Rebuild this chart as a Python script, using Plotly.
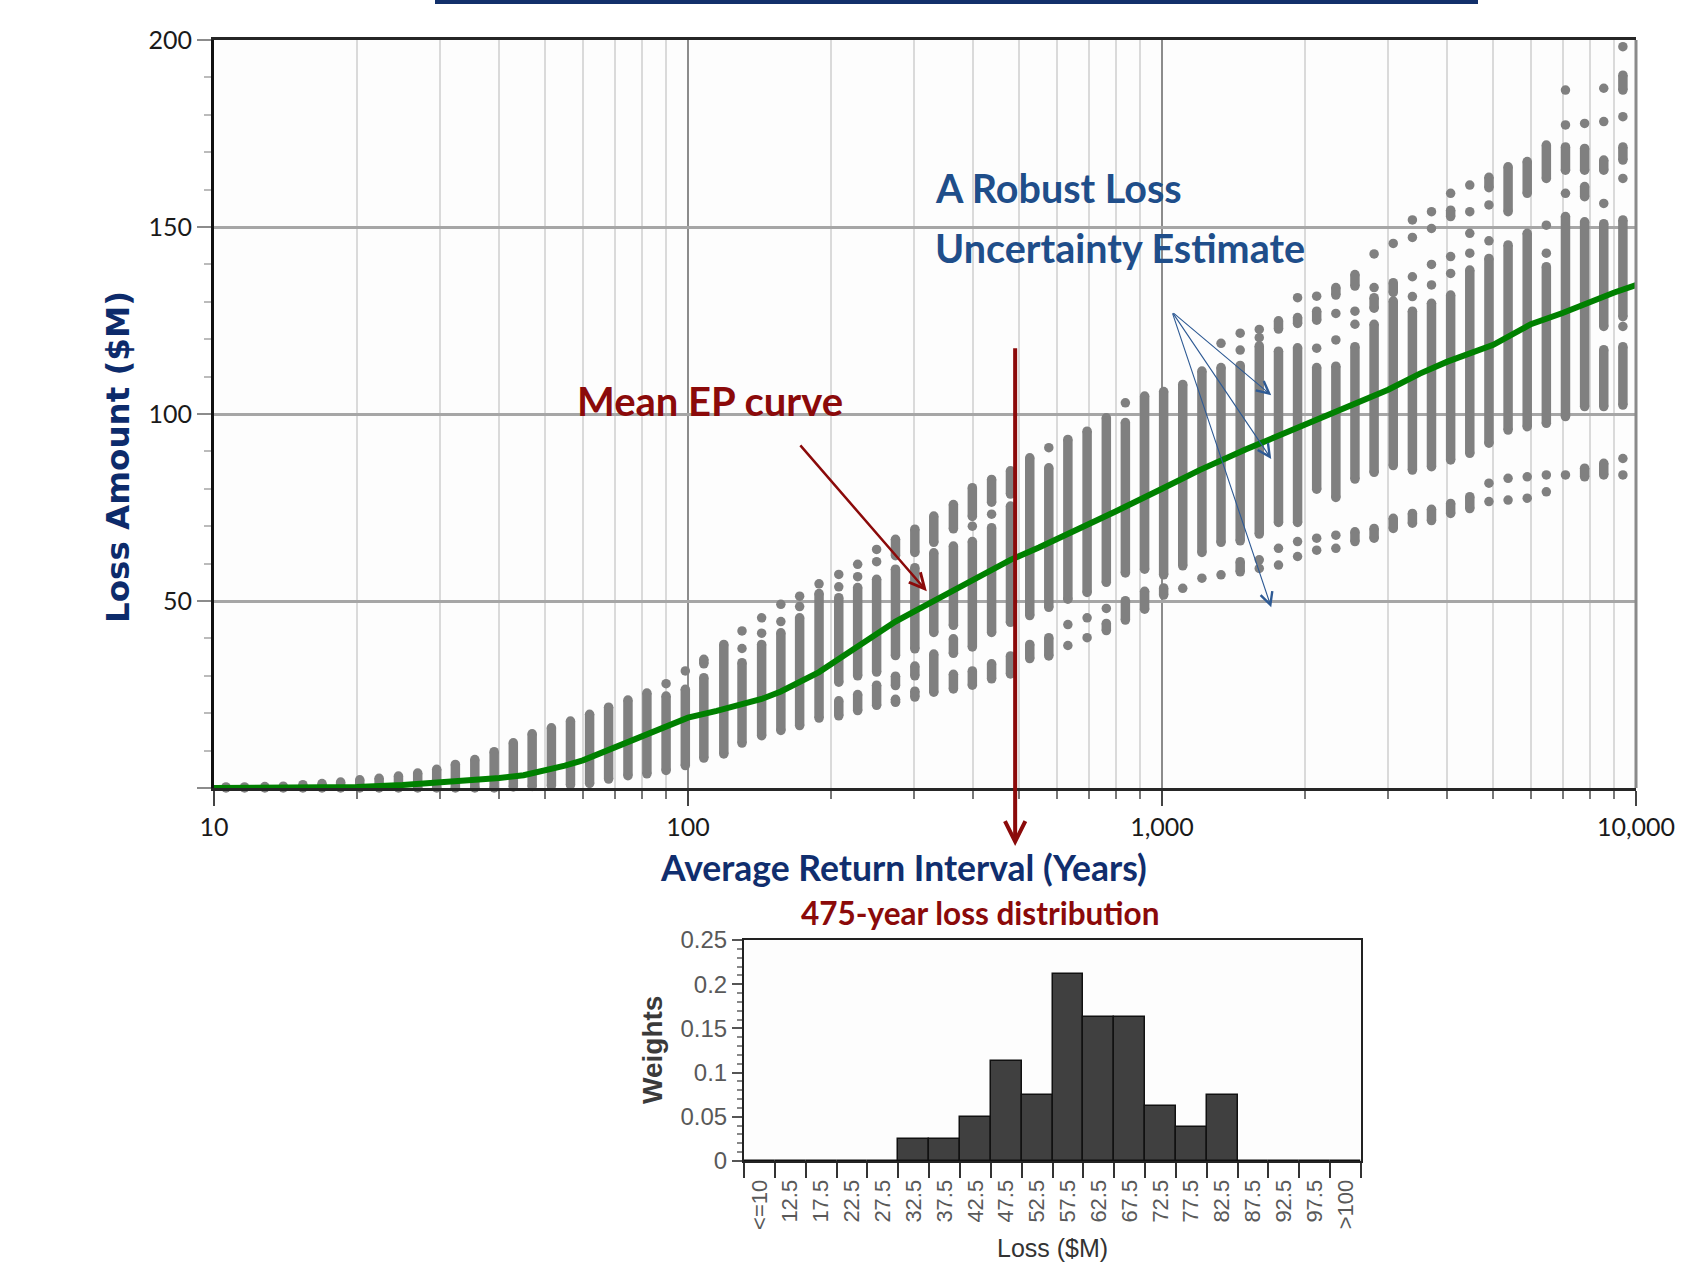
import math
import plotly.graph_objects as go

# ---------------- data ----------------
# return periods (years) of the simulated loss columns
return_periods = [10.6, 11.6, 12.8, 14.0, 15.4, 16.9, 18.5, 20.3, 22.3, 24.5, 26.9, 29.5,
                  32.3, 35.5, 39.0, 42.8, 46.9, 51.5, 56.5, 62.0, 68.0, 74.7, 81.9, 89.9,
                  98.7, 108, 119, 130, 143, 157, 172, 189, 208, 228, 250, 274, 301, 330,
                  363, 398, 437, 479, 526, 577, 633, 695, 763, 837, 919, 1008, 1106, 1214,
                  1332, 1462, 1604, 1761, 1932, 2120, 2327, 2553, 2802, 3075, 3375, 3703,
                  4064, 4460, 4895, 5372, 5895, 6469, 7099, 7791, 8550, 9383]

# loss values ($M) per column: [low, high] runs of densely packed points, [v, v] = single point
loss_columns = [
    [[0, 0.3]], [[0, 0.3]], [[0, 0.4]], [[0, 0.5]], [[0, 0.9]], [[0, 1.2]], [[0, 1.6]],
    [[0, 2.2]], [[0, 2.6]], [[0, 3.2]], [[0, 4.0]], [[0, 5.0]], [[0, 6.3]], [[0, 7.6]],
    [[0, 9.7]], [[0.3, 12.1]], [[0.4, 14.5]], [[0.6, 16.1]], [[0.8, 17.9]], [[1.2, 19.7]],
    [[2.4, 21.6]], [[3.3, 23.5]], [[3.8, 25.4]],
    [[4.7, 24.6], [27.9, 27.9]],
    [[6.0, 26.4], [31.3, 31.3]],
    [[8.0, 29.5], [33.2, 34.4]],
    [[9.1, 38.4]],
    [[12.0, 33.5], [37.3, 37.3], [42.0, 42.0]],
    [[14.0, 38.4], [41.4, 41.4], [45.5, 45.5]],
    [[15.4, 41.5], [44.5, 44.5], [49.1, 49.1]],
    [[16.7, 45.5], [48.5, 48.5], [51.3, 51.3]],
    [[18.7, 52.0], [54.6, 54.6]],
    [[19.3, 23.3], [28.3, 50.9], [53.8, 53.8], [57.1, 57.1]],
    [[20.7, 25.0], [30.0, 53.6], [56.5, 56.5], [59.8, 59.8]],
    [[22.1, 27.5], [31.0, 55.8], [60.5, 60.5], [63.8, 63.8]],
    [[22.9, 23.7], [27.4, 29.9], [35.4, 58.5], [62.1, 66.5]],
    [[24.3, 25.9], [30.0, 32.6], [37.2, 58.9], [63.0, 69.2]],
    [[25.6, 35.8], [41.6, 62.9], [65.7, 72.7]],
    [[26.5, 30.4], [36.0, 39.9], [43.5, 64.7], [69.3, 75.8]],
    [[27.5, 31.3], [37.7, 65.9], [70.0, 70.0], [72.6, 80.3]],
    [[29.2, 33.2], [41.6, 69.6], [73.2, 73.2], [76.4, 82.5]],
    [[30.5, 35.3], [44.3, 75.4], [78.6, 84.8]],
    [[34.6, 38.4], [46.1, 88.3]],
    [[35.3, 40.2], [48.3, 85.6], [91.0, 91.0]],
    [[38.1, 38.1], [43.7, 43.7], [50.5, 93.2]],
    [[40.2, 40.2], [45.5, 45.5], [52.3, 95.4]],
    [[42.1, 44.0], [48.0, 48.0], [55.0, 99.0]],
    [[44.9, 50.1], [57.5, 97.7], [103.0, 103.0]],
    [[47.8, 52.6], [58.5, 104.8]],
    [[51.6, 53.5], [57.0, 106.0]],
    [[53.4, 53.4], [59.4, 107.9]],
    [[56.1, 56.1], [63.0, 111.5]],
    [[57.0, 57.0], [65.7, 112.4], [118.9, 118.9]],
    [[57.8, 60.5], [66.1, 113.0], [117.1, 117.1], [121.6, 121.6]],
    [[58.7, 58.7], [61.0, 61.0], [67.9, 118.2], [120.4, 120.4], [122.6, 122.6]],
    [[59.6, 59.6], [64.1, 64.1], [71.0, 116.8], [122.7, 124.9]],
    [[61.9, 61.9], [65.9, 65.9], [71.0, 117.7], [124.2, 125.8], [131.1, 131.1]],
    [[63.6, 63.6], [66.8, 66.8], [79.9, 112.4], [117.6, 117.6], [125.1, 127.5], [131.5, 131.5]],
    [[64.1, 64.1], [67.6, 67.6], [77.7, 112.8], [119.8, 119.8], [126.9, 126.9], [131.8, 133.8]],
    [[65.9, 68.5], [82.6, 118.0], [124.0, 124.0], [127.5, 127.5], [134.2, 137.3]],
    [[66.8, 69.4], [84.4, 124.0], [128.3, 131.1], [133.8, 133.8], [142.8, 142.8]],
    [[69.4, 72.1], [86.2, 130.2], [132.5, 135.1], [145.6, 145.6]],
    [[70.8, 73.4], [85.0, 127.5], [131.4, 131.4], [136.7, 136.7], [147.2, 147.2], [151.9, 151.9]],
    [[71.5, 74.5], [85.9, 129.6], [134.5, 134.5], [140.0, 140.0], [149.6, 149.6], [154.1, 154.1]],
    [[73.4, 76.1], [87.7, 131.8], [137.6, 137.6], [142.1, 142.1], [152.8, 154.5], [159.0, 159.0]],
    [[74.7, 77.9], [89.5, 138.5], [143.0, 143.0], [148.3, 148.3], [154.1, 154.1], [161.2, 161.2]],
    [[76.6, 76.6], [81.5, 81.5], [92.2, 141.6], [146.3, 146.3], [155.9, 155.9], [160.5, 163.3]],
    [[77.0, 77.0], [82.8, 82.8], [95.7, 145.2], [154.1, 166.1]],
    [[77.5, 77.5], [83.2, 83.2], [96.6, 148.3], [159.0, 167.5]],
    [[79.2, 79.2], [83.7, 83.7], [97.5, 139.4], [143.0, 143.0], [150.5, 150.5], [163.0, 171.9]],
    [[83.7, 83.7], [99.3, 152.8], [159.0, 159.0], [165.2, 171.4], [177.3, 177.3], [186.6, 186.6]],
    [[83.2, 85.5], [102.0, 151.4], [158.1, 160.8], [165.2, 171.0], [177.7, 177.7]],
    [[83.7, 86.8], [102.0, 117.2], [123.4, 150.9], [156.3, 156.3], [165.2, 167.9], [178.2, 178.2],
     [187.1, 187.1]],
    [[83.7, 83.7], [88.1, 88.1], [102.4, 118.0], [123.4, 123.4], [126.0, 151.9], [163.0, 163.0],
     [167.9, 171.4], [179.5, 179.5], [186.6, 190.6], [198.2, 198.2]],
]

# mean EP curve
ep_rp = [10, 15, 20, 25, 30, 35, 40, 45, 50, 55, 60, 70, 80, 90, 100, 115, 130, 143, 157, 172,
         189, 208, 228, 250, 274, 301, 330, 363, 398, 437, 479, 550, 650, 800, 1000, 1200, 1500,
         2000, 2500, 3000, 3500, 4000, 5000, 6000, 7000, 8000, 9000, 10000]
ep_loss = [0.0, 0.1, 0.3, 0.8, 1.4, 2.0, 2.7, 3.4, 4.6, 6.0, 7.4, 10.8, 14.0, 16.6, 18.8, 20.6,
           22.3, 23.8, 25.8, 28.2, 31.0, 34.5, 37.8, 41.5, 44.5, 47.3, 50.0, 53.0, 55.8, 58.5,
           61.0, 64.3, 68.5, 74.0, 80.0, 85.0, 90.5, 97.0, 102.0, 106.5, 110.8, 114.0, 118.5,
           124.0, 127.0, 130.0, 132.5, 134.5]

# 475-year loss distribution
hist_bins = ["<=10", "12.5", "17.5", "22.5", "27.5", "32.5", "37.5", "42.5", "47.5", "52.5",
             "57.5", "62.5", "67.5", "72.5", "77.5", "82.5", "87.5", "92.5", "97.5", ">100"]
hist_weights = [0, 0, 0, 0, 0, 0.025, 0.025, 0.05, 0.113, 0.075, 0.212, 0.163, 0.163, 0.062,
                0.038, 0.075, 0, 0, 0, 0]

x_tickvals = [10, 100, 1000, 10000]
x_ticktext = ["10", "100", "1,000", "10,000"]
y_tickvals = [0, 50, 100, 150, 200]
y_ticktext = ["", "50", "100", "150", "200"]
h_tickvals = [0, 0.05, 0.1, 0.15, 0.2, 0.25]
h_ticktext = ["0", "0.05", "0.1", "0.15", "0.2", "0.25"]

# ---------------- figure ----------------
W, H = 1686, 1267
NARROW = "Lato, Liberation Sans Narrow, sans-serif"
ARIAL = "Liberation Sans, Arial, sans-serif"
GRAY = "#808080"
DOT = 9.5


def px(x):
    return x / W


def py(y):
    return 1 - y / H


seg_x, seg_y, dot_x, dot_y = [], [], [], []
for rp, runs in zip(return_periods, loss_columns):
    for lo, hi in runs:
        if hi > lo:
            seg_x += [rp, rp, None]
            seg_y += [lo, hi, None]
            dot_x += [rp, rp]
            dot_y += [lo, hi]
        else:
            dot_x.append(rp)
            dot_y.append(lo)

fig = go.Figure()
fig.add_trace(go.Scatter(x=seg_x, y=seg_y, mode="lines", line=dict(color=GRAY, width=DOT),
                         cliponaxis=False, hoverinfo="skip", xaxis="x", yaxis="y"))
fig.add_trace(go.Scatter(x=dot_x, y=dot_y, mode="markers",
                         marker=dict(color=GRAY, size=DOT, line=dict(width=0)),
                         cliponaxis=False, xaxis="x", yaxis="y"))
fig.add_trace(go.Scatter(x=ep_rp, y=ep_loss, mode="lines", line=dict(color="#008000", width=6),
                         cliponaxis=False, xaxis="x", yaxis="y"))
fig.add_trace(go.Bar(x=hist_bins, y=hist_weights, xaxis="x2", yaxis="y2",
                     marker=dict(color="#404040", line=dict(color="#111111", width=1.5))))

minor_x = [m * 10 ** d for d in (1, 2, 3) for m in range(2, 10)]

fig.update_layout(
    template="none",
    width=W, height=H, margin=dict(l=0, r=0, t=0, b=0, pad=0, autoexpand=False),
    paper_bgcolor="white", plot_bgcolor="#fdfdfd", showlegend=False, bargap=0,
    xaxis=dict(type="log", range=[1, 4], domain=[px(214), px(1636)], anchor="y",
               automargin=False,
               tickvals=x_tickvals, ticktext=x_ticktext,
               tickfont=dict(family=NARROW, size=25, color="#1a1a1a"),
               showgrid=True, gridcolor="#8c8c8c", gridwidth=2,
               ticks="outside", ticklen=15, tickwidth=2, tickcolor="#444",
               showline=True, linecolor="#262626", linewidth=3, mirror=True, zeroline=False,
               minor=dict(tickvals=minor_x, showgrid=True, gridcolor="#dadada", gridwidth=2,
                          ticks="outside", ticklen=8, tickwidth=1.5, tickcolor="#777")),
    yaxis=dict(range=[0, 200], domain=[py(788), py(40)], anchor="x", automargin=False,
               tickvals=y_tickvals, ticktext=y_ticktext,
               tickfont=dict(family=NARROW, size=25, color="#1a1a1a"),
               showgrid=True, gridcolor="#a6a6a6", gridwidth=2.5,
               ticks="outside", ticklen=14, tickwidth=2, tickcolor="#8c8c8c",
               showline=True, linecolor="#111111", linewidth=3, zeroline=False,
               minor=dict(dtick=10, ticks="outside", ticklen=7, tickwidth=1.5,
                          tickcolor="#bbbbbb", showgrid=False)),
    xaxis2=dict(type="category", domain=[px(744), px(1361)], anchor="y2", automargin=False,
                tickson="boundaries", ticks="outside", ticklen=15, tickwidth=1.5,
                tickcolor="#333", tickangle=-90, ticklabelstandoff=8,
                tickfont=dict(family=ARIAL, size=22, color="#595959"),
                showline=True, linecolor="#222", linewidth=2, mirror=True, showgrid=False),
    yaxis2=dict(range=[0, 0.25], domain=[py(1161), py(940)], anchor="x2", automargin=False,
                tickvals=h_tickvals, ticktext=h_ticktext,
                tickfont=dict(family=ARIAL, size=24, color="#595959"),
                ticks="outside", ticklen=10, tickwidth=1.5, tickcolor="#555",
                showline=True, linecolor="#222", linewidth=2, mirror=True,
                showgrid=False, zeroline=False,
                minor=dict(dtick=0.01, ticks="outside", ticklen=5, tickcolor="#888")),
)

shapes = [
    dict(type="rect", xref="paper", yref="paper", x0=px(435), x1=px(1478), y0=py(4), y1=1,
         fillcolor="#12306b", line=dict(width=0)),
    dict(type="line", xref="paper", yref="paper", x0=px(1636), x1=px(1636), y0=py(788),
         y1=py(40), line=dict(color="#8a8a8a", width=3)),
]
fig.update_layout(shapes=shapes)

ann = []
# text labels
ann.append(dict(xref="paper", yref="paper", x=px(575), y=py(401), xanchor="left", yanchor="middle",
                text="<b>Mean EP curve</b>", showarrow=False,
                font=dict(family=NARROW, size=40, color="#8b0a0a")))
ann.append(dict(xref="paper", yref="paper", x=px(933), y=py(187), xanchor="left", yanchor="middle",
                text="<b>A Robust Loss</b>", showarrow=False,
                font=dict(family=NARROW, size=39.5, color="#1f4e8a")))
ann.append(dict(xref="paper", yref="paper", x=px(933), y=py(247), xanchor="left", yanchor="middle",
                text="<b>Uncertainty Estimate</b>", showarrow=False,
                font=dict(family=NARROW, size=39.5, color="#1f4e8a")))
ann.append(dict(xref="paper", yref="paper", x=px(903), y=py(867), xanchor="center", yanchor="middle",
                text="<b>Average Return Interval (Years)</b>", showarrow=False,
                font=dict(family=NARROW, size=35.5, color="#102e6e")))
ann.append(dict(xref="paper", yref="paper", x=px(980), y=py(913), xanchor="center", yanchor="middle",
                text="<b>475-year loss distribution</b>", showarrow=False,
                font=dict(family=NARROW, size=31.5, color="#8b0a0a")))
ann.append(dict(xref="paper", yref="paper", x=px(118), y=py(457), xanchor="center", yanchor="middle",
                text="<b>Loss Amount ($M)</b>", showarrow=False, textangle=-90,
                font=dict(family="DejaVu Sans, Verdana, sans-serif", size=32.5, color="#0d2b6b")))
ann.append(dict(xref="paper", yref="paper", x=px(652), y=py(1050), xanchor="center", yanchor="middle",
                text="<b>Weights</b>", showarrow=False, textangle=-90,
                font=dict(family=ARIAL, size=28, color="#3a3a3a")))
ann.append(dict(xref="paper", yref="paper", x=px(1052), y=py(1264), xanchor="center", yanchor="bottom",
                text="Loss ($M)", showarrow=False,
                font=dict(family=ARIAL, size=25, color="#333333")))

# arrows (data coordinates; log axis positions given as log10)
L = math.log10
ann.append(dict(xref="x", yref="y", axref="x", ayref="y", x=L(490), y=-15.5, ax=L(490), ay=118,
                text="", showarrow=True, arrowhead=5, arrowsize=1, arrowwidth=4,
                arrowcolor="#8b0a0a"))
ann.append(dict(xref="x", yref="y", axref="x", ayref="y", x=L(319), y=52.6, ax=L(171.5), ay=92.0,
                text="", showarrow=True, arrowhead=5, arrowsize=1.2, arrowwidth=2.5,
                arrowcolor="#8b0a0a"))
for hy in (105.0, 88.0, 48.3):
    ann.append(dict(xref="x", yref="y", axref="x", ayref="y", x=L(1700), y=hy, ax=L(1050), ay=127.3,
                    text="", showarrow=True, arrowhead=5, arrowsize=2.2, arrowwidth=1.1,
                    arrowcolor="#2e5a94"))
fig.update_layout(annotations=ann)

fig.write_html("out.html", config={"displayModeBar": False},
               post_script="document.body.style.margin='0';document.body.style.overflow='hidden';")
